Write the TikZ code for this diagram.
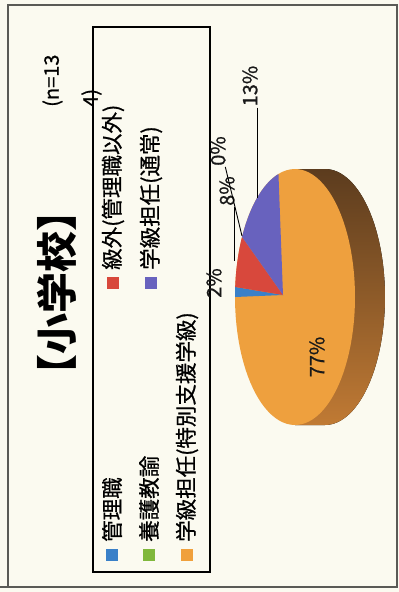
\documentclass[tikz,border=0pt]{standalone}
\usepackage{fontspec}
\setmainfont{Noto Sans CJK JP}
\newfontfamily\legfont{Noto Sans CJK JP}[FakeBold=0.7]
\usetikzlibrary{positioning,calc}
\definecolor{paper}{RGB}{251,250,240}
\definecolor{framegray}{RGB}{90,90,86}
\definecolor{cmgr}{RGB}{58,128,200}
\definecolor{ckyu}{RGB}{216,72,60}
\definecolor{cyogo}{RGB}{128,184,60}
\definecolor{ctsujo}{RGB}{104,98,190}
\definecolor{ctoku}{RGB}{240,160,60}
\definecolor{pieface}{RGB}{238,160,62}
\definecolor{sidedark}{RGB}{92,60,30}
\definecolor{sidemid}{RGB}{122,78,36}
\definecolor{sidelight}{RGB}{192,122,52}
\tikzset{outerframe/.style={draw=framegray, line width=1.2pt}}
\tikzset{legbox/.style={draw=black, line width=1.4pt}}
\tikzset{legsq/.style={minimum size=12pt, inner sep=0pt, outer sep=0pt}}
\tikzset{legtxt/.style={rotate=90, anchor=west, inner sep=0pt, font=\legfont\fontsize{21.5}{21.5}\selectfont}}
\tikzset{pct/.style={rotate=90, inner sep=1pt, text=black!90, font=\legfont\fontsize{20}{20}\selectfont}}
\tikzset{leader/.style={draw=black, line width=0.9pt}}
\tikzset{pieside/.style={top color=sidedark, middle color=sidemid, bottom color=sidelight}}
\begin{document}
\begin{tikzpicture}[x=1pt, y=-1pt]
	\fill[paper] (0,0) rectangle (399,592);
	\useasboundingbox (0,0) rectangle (399,592);
	\draw[outerframe] (8,5) rectangle (397,587);
	\draw[outerframe] (0,587) -- (8,587);
	% title and n
	\node[rotate=90, inner sep=0pt, font=\fontsize{41}{41}\selectfont\bfseries] (ttl) at (57,293) {【小学校】};
	\node[rotate=90, anchor=west, inner sep=0pt, align=left, font=\legfont\fontsize{20}{39}\selectfont] (ncount) at (72,107) {(n=13\\4)};
	% legend
	\draw[legbox] (93,27) rectangle (210,572);
	\node[legsq, fill=cmgr] (sqA) at (112,555) {};
	\node[legsq, fill=ckyu] (sqB) at (113,283) {};
	\node[legsq, fill=cyogo] (sqC) at (149,555) {};
	\node[legsq, fill=ctsujo] (sqD) at (151,283) {};
	\node[legsq, fill=ctoku] (sqE) at (187,555) {};
	\node[above=7pt of sqA, legtxt] (txA) {管理職};
	\node[above=7pt of sqB, legtxt] (txB) {級外(管理職以外)};
	\node[above=7pt of sqC, legtxt] (txC) {養護教諭};
	\node[above=7pt of sqD, legtxt] (txD) {学級担任(通常)};
	\node[above=7pt of sqE, legtxt] (txE) {学級担任(特別支援学級)};
	% pie
	\fill[pieside] (295,169) -- plot[domain=-90:90, samples=60] ({325+60*cos(\x)},{297+128*sin(\x)}) -- (295,425) -- cycle;
	\fill[pieface] plot[domain=0:360, samples=100] ({295+60*cos(\x)},{297+128*sin(\x)}) -- cycle;
	\coordinate (apex) at (283,295);
	\fill[cmgr] (apex) -- plot[domain=180:184.5, samples=5] ({295+60*cos(\x)},{297+128*sin(\x)}) -- cycle;
	\fill[ckyu] (apex) -- plot[domain=184.5:208, samples=15] ({295+60*cos(\x)},{297+128*sin(\x)}) -- cycle;
	\fill[ctsujo] (apex) -- plot[domain=208:254, samples=25] ({295+60*cos(\x)},{297+128*sin(\x)}) -- cycle;
	% labels
	\node[pct] (pct13) at (250,86) {13\%};
	\node[pct] (pct0) at (218,151) {0\%};
	\node[pct] (pct8) at (227,191) {8\%};
	\node[pct] (pct2) at (214,283) {2\%};
	\node[pct] (pct77) at (317,357) {77\%};
	\coordinate (e13) at (257,198);
	\coordinate (e8) at (237,261);
	\coordinate (e0) at (242,236);
	\draw[leader] (pct13.base west) -- (pct13.base west |- e13);
	\draw[leader] (pct8.base west) -- (pct8.base west |- e8);
	\draw[leader] (pct0.base west) -- (e0);
\end{tikzpicture}
\end{document}
